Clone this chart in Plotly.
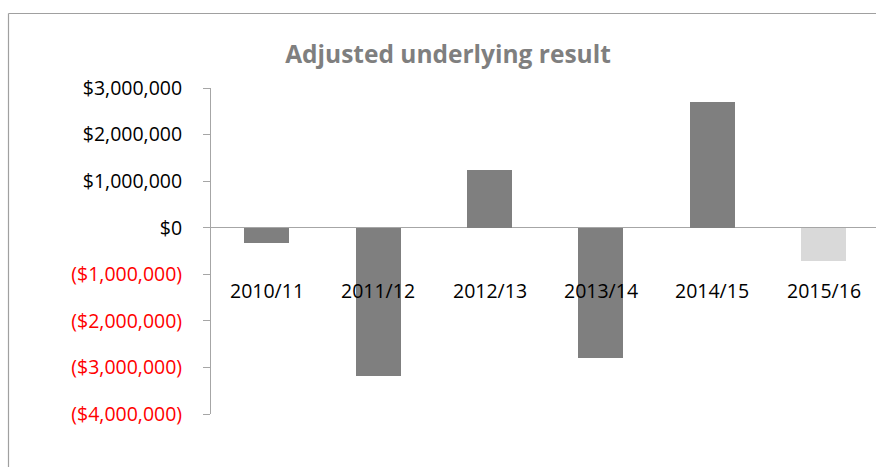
import plotly.graph_objects as go

categories = ["2010/11", "2011/12", "2012/13", "2013/14", "2014/15", "2015/16"]
values = [-330000, -3180000, 1240000, -2790000, 2690000, -710000]
bar_colors = ["#7f7f7f", "#7f7f7f", "#7f7f7f", "#7f7f7f", "#7f7f7f", "#d9d9d9"]
tick_values = [3000000, 2000000, 1000000, 0, -1000000, -2000000, -3000000, -4000000]
tick_labels = ["$3,000,000", "$2,000,000", "$1,000,000", "$0",
               "($1,000,000)", "($2,000,000)", "($3,000,000)", "($4,000,000)"]

FONT = "Open Sans"
W, H = 876, 467
ML, MR, MT, MB = 211, 0, 88, 53
pw = W - ML - MR
ph = H - MT - MB

ticktext = [
    (f'<span style="color:#ff0000">{t}</span>' if v < 0 else t)
    for v, t in zip(tick_values, tick_labels)
]

fig = go.Figure()
fig.add_trace(go.Bar(
    x=list(range(len(categories))),
    y=values,
    marker=dict(color=bar_colors, line=dict(width=0)),
    width=0.404,
    hoverinfo="skip",
))

annotations = []
for i, c in enumerate(categories):
    annotations.append(dict(
        x=i, y=0, xref="x", yref="y", text=c, showarrow=False,
        yanchor="middle", xanchor="center", yshift=-63,
        font=dict(family=FONT, size=19.5, color="#000000"),
    ))

def px_x(x):
    return (x - ML) / pw

def px_y(y):
    return (H - MB - y) / ph

border = "#a0a0a0"
shapes = [
    dict(type="line", xref="paper", yref="paper",
         x0=px_x(8.5), x1=px_x(8.5), y0=px_y(13.5), y1=px_y(470),
         line=dict(color=border, width=1.2)),
    dict(type="line", xref="paper", yref="paper",
         x0=px_x(8.5), x1=px_x(880), y0=px_y(13.5), y1=px_y(13.5),
         line=dict(color=border, width=1.2)),
]

fig.update_layout(
    width=W, height=H,
    margin=dict(l=ML, r=MR, t=MT, b=MB, pad=0),
    paper_bgcolor="white", plot_bgcolor="white",
    showlegend=False,
    title=dict(
        text="<b>Adjusted underlying result</b>",
        x=448 / W, xref="container", xanchor="center",
        y=1 - 54.5 / H, yref="container", yanchor="middle",
        font=dict(family=FONT, size=24.5, color="#7f7f7f"),
    ),
    xaxis=dict(
        range=[-0.5, -0.5 + pw / 111.4],
        showticklabels=False, showgrid=False, zeroline=False,
        showline=False, ticks="", fixedrange=True,
    ),
    yaxis=dict(
        range=[-4000000, 3000000],
        tickvals=tick_values, ticktext=ticktext,
        tickfont=dict(family=FONT, size=19.5, color="#000000"),
        showgrid=False,
        showline=True, linecolor="#a6a6a6", linewidth=1,
        ticks="outside", ticklen=7, tickcolor="#a6a6a6", tickwidth=1,
        zeroline=True, zerolinecolor="#a6a6a6", zerolinewidth=1,
        ticklabelstandoff=17,
    ),
    annotations=annotations,
    shapes=shapes,
    bargap=0,
)

fig.write_html("out.html")
